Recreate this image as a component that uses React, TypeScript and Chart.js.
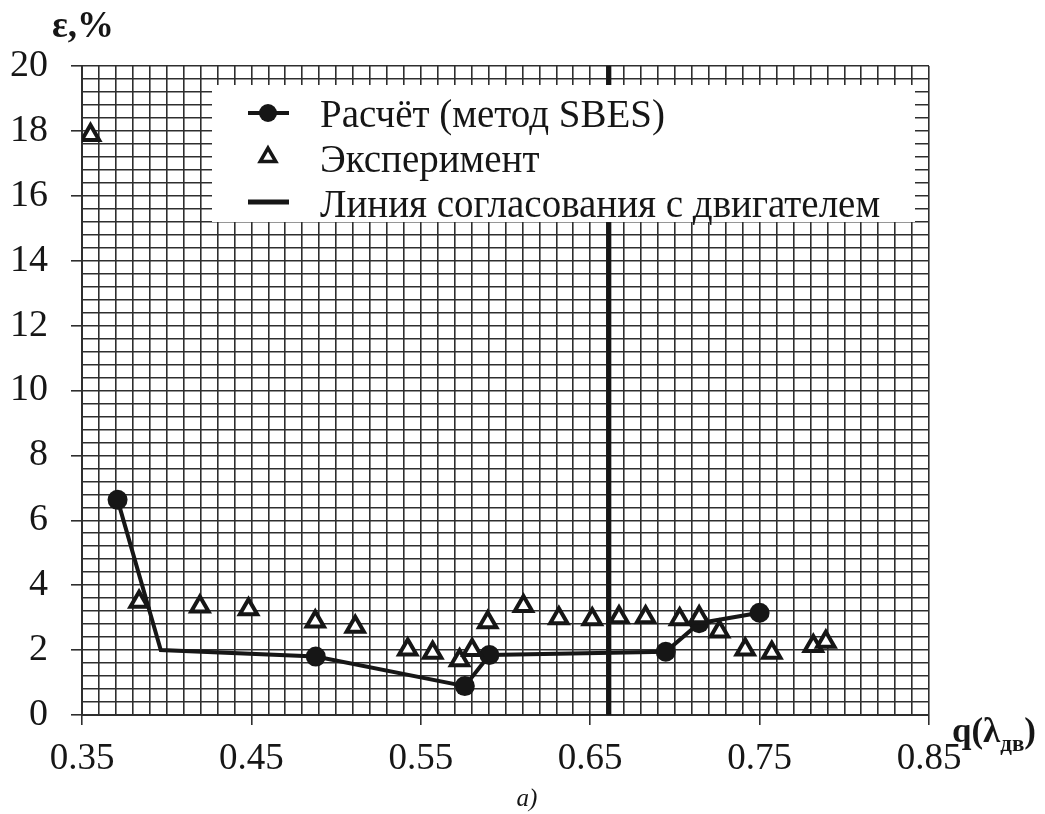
import React, { useEffect, useRef } from 'react';
import { Chart, registerables } from 'chart.js';

Chart.register(...registerables);

// ---- data ----
const calcQ = [0.371, 0.3965, 0.488, 0.576, 0.5905, 0.6946, 0.7143, 0.750];
const calcE = [6.63, 2.0, 1.80, 0.89, 1.85, 1.95, 2.83, 3.15];
const calcMarker = [true, false, true, true, true, true, true, true];

const expQ = [0.355, 0.3837, 0.4196, 0.4483, 0.4877, 0.5113, 0.5423, 0.557, 0.5729, 0.5803, 0.5895, 0.6106, 0.6315, 0.6512, 0.667, 0.6827, 0.7028, 0.7143, 0.7263, 0.7415, 0.7572, 0.7817, 0.7891];
const expE = [17.87, 3.49, 3.34, 3.26, 2.88, 2.72, 2.02, 1.92, 1.69, 2.0, 2.86, 3.36, 2.98, 2.95, 3.01, 3.01, 2.95, 3.01, 2.57, 2.02, 1.92, 2.13, 2.26];

const engineQ = [0.661, 0.661];
const engineE = [0, 20];

const xTickLabels = ['0.35', '0.45', '0.55', '0.65', '0.75', '0.85'];
const yTickLabels = ['0', '2', '4', '6', '8', '10', '12', '14', '16', '18', '20'];

const seriesLabels = ['Расчёт (метод SBES)', 'Эксперимент', 'Линия согласования с двигателем'];
const yTitle = 'ε,%';
const xTitleMain = 'q(λ';
const xTitleSub = 'дв';
const xTitleEnd = ')';
const caption = 'а)';

const INK = '#161616';
const GRID = '#2e2e2e';
const SERIF = '"Liberation Serif", "Times New Roman", serif';

const toPoints = (xs: number[], ys: number[]) => xs.map((x, i) => ({ x, y: ys[i] }));

const legendPlugin = {
  id: 'boxLegend',
  afterDatasetsDraw(chart: any) {
    const ctx = chart.ctx as CanvasRenderingContext2D;
    ctx.save();
    ctx.fillStyle = '#ffffff';
    ctx.fillRect(212, 85, 703, 137);

    const symX = 268;
    const rows = [113, 157, 202];
    const baselines = [127, 172, 217];
    const ds = chart.data.datasets;

    // row 0: line + circle
    ctx.strokeStyle = INK;
    ctx.fillStyle = INK;
    ctx.lineWidth = 4;
    ctx.beginPath();
    ctx.moveTo(248, rows[0]);
    ctx.lineTo(289, rows[0]);
    ctx.stroke();
    ctx.beginPath();
    ctx.arc(symX, rows[0], 9, 0, Math.PI * 2);
    ctx.fill();

    // row 1: triangle
    const r = 9;
    ctx.lineWidth = 3.5;
    ctx.fillStyle = '#ffffff';
    ctx.beginPath();
    for (let k = 0; k < 3; k++) {
      const a = k * (2 * Math.PI / 3);
      const px = symX + Math.sin(a) * r;
      const py = rows[1] - Math.cos(a) * r;
      if (k === 0) ctx.moveTo(px, py); else ctx.lineTo(px, py);
    }
    ctx.closePath();
    ctx.fill();
    ctx.stroke();

    // row 2: plain line
    ctx.lineWidth = 5;
    ctx.beginPath();
    ctx.moveTo(248, rows[2]);
    ctx.lineTo(289, rows[2]);
    ctx.stroke();

    ctx.fillStyle = INK;
    ctx.font = `39px ${SERIF}`;
    ctx.textAlign = 'left';
    ctx.textBaseline = 'alphabetic';
    for (let i = 0; i < 3; i++) {
      ctx.fillText(ds[i].label, 320, baselines[i]);
    }
    ctx.restore();
  },
  afterDraw(chart: any) {
    const ctx = chart.ctx as CanvasRenderingContext2D;
    ctx.save();
    ctx.fillStyle = INK;
    ctx.textBaseline = 'alphabetic';
    // y title
    ctx.font = `bold 37px ${SERIF}`;
    ctx.textAlign = 'left';
    ctx.fillText(yTitle, 52, 37);
    // x title
    let x = 952;
    ctx.font = `bold 35px ${SERIF}`;
    ctx.fillText(xTitleMain, x, 742);
    x += ctx.measureText(xTitleMain).width;
    ctx.font = `bold 23px ${SERIF}`;
    ctx.fillText(xTitleSub, x, 751);
    x += ctx.measureText(xTitleSub).width;
    ctx.font = `bold 35px ${SERIF}`;
    ctx.fillText(xTitleEnd, x, 742);
    // caption
    ctx.font = `italic 25px ${SERIF}`;
    ctx.textAlign = 'center';
    ctx.fillText(caption, 527, 806);
    ctx.restore();
  },
};

export default function App() {
  const ref = useRef<HTMLCanvasElement | null>(null);

  useEffect(() => {
    if (!ref.current) return;
    const chart = new Chart(ref.current, {
      type: 'scatter',
      data: {
        datasets: [
          {
            label: seriesLabels[0],
            data: toPoints(calcQ, calcE),
            showLine: true,
            borderColor: INK,
            backgroundColor: INK,
            borderWidth: 4,
            pointRadius: calcMarker.map((m) => (m ? 10 : 0)),
            pointStyle: 'circle',
            pointBorderWidth: 0,
            order: 2,
          },
          {
            label: seriesLabels[1],
            data: toPoints(expQ, expE),
            showLine: false,
            borderColor: INK,
            backgroundColor: '#ffffff',
            pointStyle: 'triangle',
            pointRadius: 10,
            pointBorderWidth: 4,
            order: 1,
          },
          {
            label: seriesLabels[2],
            data: toPoints(engineQ, engineE),
            showLine: true,
            borderColor: INK,
            backgroundColor: INK,
            borderWidth: 5,
            pointRadius: 0,
            order: 3,
          },
        ],
      },
      options: {
        responsive: false,
        animation: false,
        devicePixelRatio: 1,
        layout: { padding: { left: 0, top: 66, right: 116, bottom: 0 } },
        plugins: {
          legend: { display: false },
          tooltip: { enabled: false },
        },
        scales: {
          x: {
            type: 'linear',
            min: 0.35,
            max: 0.85,
            afterFit: (s: any) => { s.height = 99; },
            ticks: {
              stepSize: 0.01,
              maxTicksLimit: 1000,
              autoSkip: false,
              maxRotation: 0,
              minRotation: 0,
              padding: 12,
              color: INK,
              font: { family: SERIF, size: 37 },
              callback: (_v: any, i: number) => (i % 10 === 0 ? xTickLabels[i / 10] : ''),
            },
            grid: {
              color: GRID,
              lineWidth: 1.6,
              tickLength: 10,
              tickColor: (c: any) => (c.index % 10 === 0 ? GRID : 'rgba(0,0,0,0)'),
              tickWidth: 1.6,
            },
            border: { color: GRID, width: 2 },
          },
          y: {
            type: 'linear',
            min: 0,
            max: 20,
            afterFit: (s: any) => { s.width = 82; },
            ticks: {
              stepSize: 0.4,
              maxTicksLimit: 1000,
              autoSkip: false,
              padding: 23,
              color: INK,
              font: { family: SERIF, size: 38 },
              callback: (_v: any, i: number) => (i % 5 === 0 ? yTickLabels[i / 5] : ''),
            },
            grid: {
              color: GRID,
              lineWidth: 1.6,
              tickLength: 11,
              tickColor: (c: any) => (c.index % 5 === 0 ? GRID : 'rgba(0,0,0,0)'),
              tickWidth: 1.6,
            },
            border: { color: GRID, width: 2 },
          },
        },
      },
      plugins: [legendPlugin],
    } as any);
    return () => chart.destroy();
  }, []);

  return (
    <div style={{ position: 'absolute', left: 0, top: 0, width: 1045, height: 814, background: '#fff' }}>
      <canvas ref={ref} width={1045} height={814} style={{ display: 'block' }} />
    </div>
  );
}
